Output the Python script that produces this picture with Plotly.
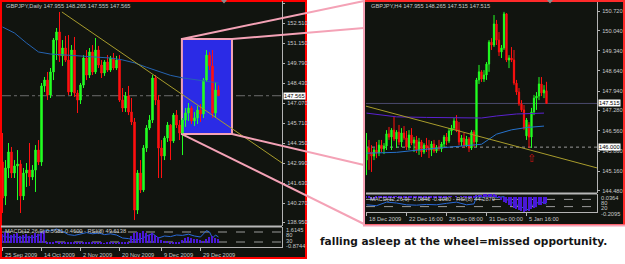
import plotly.graph_objects as go

W, H = 625, 264
def PX(x): return x / W
def PY(y): return 1 - y / H

SMALL = "Liberation Sans, Arial"
FS = 5.7
LBL = "#c8c8c8"
BG = "#11140f"
PINK = "#f4a2b6"

# ---------------- GBPJPY Daily ----------------
d_open = [143.06,140.75,142.65,143.74,142.31,142.79,142.92,140.75,142.31,142.51,142.04,142.51,143.87,143.06,148.23,148.63,147.61,149.18,151.35,151.90,
          150.27,150.81,149.99,147.82,150.67,147.75,147.27,148.29,150.13,148.97,150.54,149.18,150.67,149.65,149.11,149.86,149.31,150.13,149.45,149.99,
          147.27,146.73,147.55,146.46,145.78,139.79,142.31,141.16,144.01,145.37,145.91,148.77,147.27,144.01,143.47,144.69,145.57,144.49,146.25,145.57,
          145.03,145.91,146.39,146.73,145.85,146.05,146.59,146.32,148.63,150.33,149.59,146.39,147.955]
d_high = [145.03,143.19,144.35,144.08,143.19,143.87,143.19,142.65,142.99,144.35,142.85,144.21,144.55,148.43,148.84,149.18,149.45,151.49,152.17,153.26,
          151.35,151.63,151.69,151.01,151.56,147.95,148.43,150.33,150.67,150.81,151.01,151.49,150.95,149.99,149.99,150.33,150.27,150.47,150.27,150.33,
          148.09,147.82,148.23,147.41,146.05,142.51,143.19,144.21,145.57,146.25,148.97,148.97,147.61,144.55,144.83,145.78,145.64,146.39,146.59,145.91,
          146.05,146.73,147.07,146.87,146.46,146.87,147.00,148.77,150.67,150.54,150.67,148.50,148.265]
d_low = [139.59,140.13,141.97,141.97,141.97,140.47,139.59,140.47,141.36,141.43,141.83,141.02,142.85,142.79,147.82,147.27,147.41,148.63,149.99,149.86,
         149.59,149.86,147.61,147.55,147.48,146.39,147.00,148.09,148.63,148.77,148.97,149.04,149.45,148.77,148.91,149.18,149.18,149.31,149.31,147.14,
         146.46,146.46,146.25,145.57,139.11,139.52,140.95,141.02,143.74,145.23,145.71,146.93,141.97,141.97,143.19,144.42,143.19,144.35,145.37,144.55,
         143.53,145.44,145.85,145.64,145.51,145.64,145.78,146.05,148.50,149.31,146.05,146.05,147.555]
d_close = [140.61,142.65,143.74,142.31,142.79,142.92,140.75,142.31,142.51,142.04,142.51,143.87,143.06,148.23,148.63,147.61,149.18,151.35,151.90,150.27,
           150.81,149.99,147.82,150.67,147.75,147.27,148.29,150.13,148.97,150.54,149.18,150.67,149.65,149.11,149.86,149.31,150.13,149.45,149.99,147.27,
           146.73,147.55,146.46,145.78,139.79,142.31,141.16,144.01,145.37,145.91,148.77,147.27,144.01,143.47,144.69,145.57,144.49,146.25,145.57,145.03,
           145.91,146.39,146.73,145.85,146.05,146.59,146.32,148.63,150.33,149.59,146.39,147.95,147.565]
d_x = list(range(len(d_open)))

d_ma_x = [0, 4, 8, 12, 16, 20, 24, 28, 32, 36, 40, 44, 48, 52, 56, 60, 64, 68, 72]
d_ma_y = [152.24, 151.83, 151.15, 150.54, 150.40, 150.33, 150.28, 150.24, 150.18, 150.13,
          150.00, 149.80, 149.50, 149.20, 148.95, 148.78, 148.66, 148.55, 148.43]
d_trend_x = [19.8, 93.2]
d_trend_y = [153.26, 142.99]
d_last = 147.565
d_price_ticks = [153.87, 152.51, 151.15, 149.79, 148.43, 147.07, 145.71, 144.35, 142.99, 141.63, 140.27, 138.95]
d_tick_idx = [0, 13, 26, 39, 53, 66]
d_tick_text = ["25 Sep 2009", "14 Oct 2009", "2 Nov 2009", "20 Nov 2009", "9 Dec 2009", "29 Dec 2009"]
zoom_box_x = [59.8, 76.5]
zoom_box_y = [144.96, 151.42]

d_macd = [0.95,1.10,1.00,0.85,0.90,1.05,0.75,0.80,0.95,0.70,0.85,1.00,0.90,1.15,1.25,
          0.10,0.12,0.15,0.20,0.18,0.15,0.12,0.10,0.08,0.06,0.05,0.07,0.09,0.10,0.12,0.10,0.08,0.06,0.05,0.04,0.05,0.06,0.05,0.04,0.08,0.10,0.12,0.15,
          0.70,1.00,1.15,1.05,1.20,1.00,0.85,1.05,0.80,0.65,
          0.30,0.25,0.20,0.15,0.12,0.10,0.15,0.35,0.55,0.60,0.50,0.45,0.40,0.35,0.25,0.40,0.60,0.70,0.55,0.46]
d_rsi_x = [0,2,4,6,8,10,12,14,16,18,20,22,24,26,28,30,32,34,36,38,40,42,44,46,48,50,52,54,56,58,60,62,64,66,68,69,70,71,72]
d_rsi_y = [55,48,52,45,50,47,55,85,80,90,78,62,58,65,72,66,70,62,66,60,45,42,35,40,55,68,45,55,52,60,58,64,55,50,82,75,45,60,50]

# ---------------- GBPJPY H4 ----------------
h_open = [145.55,145.97,145.83,145.69,145.90,145.80,146.07,145.94,146.04,146.46,146.35,146.59,146.28,146.52,146.18,146.49,146.32,146.00,146.42,146.14,
          146.25,145.90,146.18,145.83,146.07,145.97,145.90,146.11,145.87,146.00,145.94,146.11,146.35,146.21,146.56,146.66,146.91,146.59,146.18,146.32,
          146.07,146.28,145.97,146.52,146.18,148.33,148.61,148.36,148.50,148.88,149.64,149.54,150.27,149.71,149.30,149.44,150.62,149.02,149.09,149.02,
          148.22,147.91,147.50,147.29,146.39,146.77,146.35,147.22,147.70,147.77,148.19,147.88,147.955]
h_high = [146.49,146.25,146.07,145.97,146.18,146.25,146.25,146.14,146.59,146.70,146.66,147.05,146.59,146.77,146.66,146.73,146.56,146.59,146.66,146.35,
          146.39,146.32,146.25,146.14,146.32,146.25,146.21,146.25,146.07,146.25,146.18,146.42,146.49,146.66,146.77,147.01,147.11,146.87,146.42,146.49,
          146.39,146.35,146.59,146.59,148.40,148.85,148.67,148.67,148.95,149.71,149.78,150.58,150.41,149.99,149.54,150.69,150.65,149.19,149.47,149.37,
          148.33,148.05,147.63,147.46,147.01,146.87,147.36,147.81,147.91,148.43,148.43,148.15,148.265]
h_low = [145.03,145.21,145.14,145.55,145.62,145.69,145.83,145.76,145.90,146.25,145.90,146.21,145.97,146.07,146.00,146.25,145.90,145.90,146.07,145.83,
         145.80,145.73,145.66,145.76,145.83,145.62,145.69,145.80,145.80,145.87,145.83,146.00,146.07,146.14,146.42,146.59,146.52,146.07,146.04,145.97,
         146.00,145.83,145.90,146.00,146.00,148.19,148.26,148.26,148.33,148.61,149.37,149.47,149.54,149.16,149.09,149.37,148.95,148.74,148.95,148.15,
         147.81,147.43,147.22,146.59,146.25,145.97,145.97,147.11,147.29,147.63,147.77,147.70,147.515]
h_close = [145.97,145.83,145.69,145.90,145.80,146.07,145.94,146.04,146.46,146.35,146.59,146.28,146.52,146.18,146.49,146.32,146.00,146.42,146.14,146.25,
           145.90,146.18,145.83,146.07,145.97,145.90,146.11,145.87,146.00,145.94,146.11,146.35,146.21,146.56,146.66,146.91,146.59,146.18,146.32,146.07,
           146.28,145.97,146.52,146.18,148.33,148.61,148.36,148.50,148.88,149.64,149.54,150.27,149.71,149.30,149.44,150.62,149.02,149.09,149.02,148.22,
           147.91,147.50,147.29,146.66,146.94,146.35,147.22,147.70,147.77,148.19,147.88,147.98,147.515]
h_x = list(range(len(h_open)))

h_ma1_x = [0, 12, 24, 36, 46, 52, 60, 71]
h_ma1_y = [147.18, 147.05, 147.03, 147.01, 147.01, 147.08, 147.15, 147.18]
h_ma2_x = [0, 12, 24, 36, 42, 46, 52, 58, 64, 71]
h_ma2_y = [145.79, 145.82, 145.93, 146.02, 146.05, 146.10, 146.45, 146.60, 146.68, 146.73]
h_trend_x = [-0.6, 92.2]
h_trend_y = [147.43, 145.28]
h_last = 147.515
h_level = 146.000
h_price_ticks = [150.72, 150.04, 149.34, 148.64, 147.94, 147.28, 146.56, 145.86, 145.16, 144.48]
h_tick_idx = [0, 16, 32, 48, 64]
h_tick_text = ["18 Dec 2009", "22 Dec 16:00", "28 Dec 08:00", "31 Dec 00:00", "5 Jan 16:00"]
arrow_x = [66]
arrow_y = [145.59]

h_macd = [-0.020,-0.025,-0.030,-0.028,-0.025,-0.020,-0.018,-0.015,-0.010,-0.008,-0.006,-0.005,-0.004,-0.006,-0.008,-0.007,-0.009,-0.010,-0.012,-0.011,
          -0.013,-0.014,-0.015,-0.016,-0.015,-0.016,-0.014,-0.015,-0.013,-0.012,-0.010,-0.008,-0.006,-0.004,-0.002,0.000,0.002,0.000,-0.002,-0.004,
          -0.005,-0.006,-0.006,-0.005,
          0.010,0.020,0.028,0.032,0.035,0.036,0.034,0.030,0.020,
          -0.010,-0.040,-0.070,-0.090,-0.110,-0.130,-0.150,-0.170,-0.185,-0.200,-0.205,-0.200,-0.190,-0.170,-0.150,-0.135,-0.120,-0.110,-0.100,-0.085]
h_rsi_x = [0,4,8,12,16,20,24,28,32,36,40,43,44,46,48,50,52,55,57,60,62,64,65,66,68,70,72]
h_rsi_y = [40,35,55,50,40,38,42,40,48,55,40,45,85,82,87,90,80,85,60,40,25,15,12,35,50,56,44]

# ---------------- figure ----------------
fig = go.Figure()

def candles(x, o, h, l, c, xa, ya):
    return go.Candlestick(
        x=x, open=o, high=h, low=l, close=c, xaxis=xa, yaxis=ya,
        increasing=dict(line=dict(color="#22ff22", width=1), fillcolor="#22ff22"),
        decreasing=dict(line=dict(color="#ff1010", width=1), fillcolor="#ff1010"),
        whiskerwidth=0, hoverinfo="skip", showlegend=False)

# left
fig.add_trace(go.Scatter(x=d_ma_x, y=d_ma_y, mode="lines", line=dict(color="#2563b0", width=1), xaxis="x", yaxis="y", hoverinfo="skip"))
fig.add_trace(candles(d_x, d_open, d_high, d_low, d_close, "x", "y"))
fig.add_trace(go.Scatter(x=d_trend_x, y=d_trend_y, mode="lines", line=dict(color="#a89c2c", width=1), xaxis="x", yaxis="y", hoverinfo="skip"))
fig.add_trace(go.Bar(x=d_x, y=d_macd, marker=dict(color="#4a18d8", line=dict(width=0)), width=0.55, xaxis="x2", yaxis="y5", hoverinfo="skip"))
fig.add_trace(go.Scatter(x=d_rsi_x, y=d_rsi_y, mode="lines", line=dict(color="#2a6ad8", width=1), xaxis="x2", yaxis="y2", hoverinfo="skip"))

# right
fig.add_trace(go.Scatter(x=h_ma1_x, y=h_ma1_y, mode="lines", line=dict(color="#5a22d0", width=1), xaxis="x3", yaxis="y3", hoverinfo="skip"))
fig.add_trace(go.Scatter(x=h_ma2_x, y=h_ma2_y, mode="lines", line=dict(color="#2672cc", width=1), xaxis="x3", yaxis="y3", hoverinfo="skip"))
fig.add_trace(go.Scatter(x=h_trend_x, y=h_trend_y, mode="lines", line=dict(color="#a89c2c", width=1), xaxis="x3", yaxis="y3", hoverinfo="skip"))
fig.add_trace(candles(h_x, h_open, h_high, h_low, h_close, "x3", "y3"))
fig.add_trace(go.Scatter(x=arrow_x, y=arrow_y, mode="text", text=["⇧"], textfont=dict(color="#c81414", size=11, family="DejaVu Sans"),
                         xaxis="x3", yaxis="y3", hoverinfo="skip"))
fig.add_trace(go.Bar(x=h_x, y=h_macd, marker=dict(color="#4a18d8", line=dict(width=0)), width=0.55, xaxis="x4", yaxis="y6", hoverinfo="skip"))
fig.add_trace(go.Scatter(x=h_rsi_x, y=h_rsi_y, mode="lines", line=dict(color="#2a6ad8", width=1), xaxis="x4", yaxis="y4", hoverinfo="skip"))

tickfont = dict(size=FS, family=SMALL, color=LBL)
common_x = dict(showgrid=False, zeroline=False, showticklabels=False, fixedrange=True)
common_y = dict(showgrid=False, zeroline=False, fixedrange=True)

xl = [PX(2), PX(282)]
xr = [PX(366), PX(597)]
d_xrange = [-0.17, 93.17]
h_xrange = [-0.2, 92.2]
d_yrange = [138.706, 154.006]
h_yrange = [144.41, 151.032]

fig.update_layout(
    width=W, height=H, margin=dict(l=0, r=0, t=0, b=0),
    paper_bgcolor="white", plot_bgcolor="rgba(0,0,0,0)", showlegend=False, bargap=0,
    xaxis=dict(domain=xl, range=d_xrange, anchor="y", rangeslider=dict(visible=False), **common_x),
    yaxis=dict(domain=[PY(226), PY(1)], range=d_yrange, anchor="x", side="right",
               tickvals=d_price_ticks, ticktext=[f"{v:.3f}" for v in d_price_ticks],
               ticks="outside", ticklen=2, tickcolor="#b4b4b4", tickfont=tickfont, ticklabelstandoff=1,
               showline=True, linecolor="#b4b4b4", linewidth=1, **common_y),
    xaxis2=dict(domain=xl, range=d_xrange, anchor="y2", tickvals=d_tick_idx, ticks="outside", ticklen=3,
                tickcolor="#b4b4b4", showline=True, linecolor="#b4b4b4", linewidth=1, **common_x),
    yaxis2=dict(domain=[PY(247), PY(227)], range=[0, 100], anchor="x2", side="right", showticklabels=False,
                showline=True, linecolor="#b4b4b4", linewidth=1, **common_y),
    yaxis5=dict(overlaying="y2", range=[-0.35, 1.6145], anchor="x2", visible=False, **common_y),
    xaxis3=dict(domain=xr, range=h_xrange, anchor="y3", rangeslider=dict(visible=False), **common_x),
    yaxis3=dict(domain=[PY(193), PY(2)], range=h_yrange, anchor="x3", side="right",
                tickvals=h_price_ticks, ticktext=[f"{v:.3f}" for v in h_price_ticks],
                ticks="outside", ticklen=2, tickcolor="#b4b4b4", tickfont=tickfont, ticklabelstandoff=1,
                showline=True, linecolor="#b4b4b4", linewidth=1, **common_y),
    xaxis4=dict(domain=xr, range=h_xrange, anchor="y4", tickvals=h_tick_idx, ticks="outside", ticklen=3,
                tickcolor="#b4b4b4", showline=True, linecolor="#b4b4b4", linewidth=1, **common_x),
    yaxis4=dict(domain=[PY(212), PY(194)], range=[0, 100], anchor="x4", side="right", showticklabels=False,
                showline=True, linecolor="#b4b4b4", linewidth=1, **common_y),
    yaxis6=dict(overlaying="y4", range=[-0.2095, 0.0364], anchor="x4", visible=False, **common_y),
)

shapes = []
# chart backgrounds / borders
shapes.append(dict(type="rect", xref="paper", yref="paper", x0=PX(1), x1=PX(306), y0=PY(258), y1=PY(1),
                   fillcolor=BG, line=dict(color="#ff0000", width=2), layer="below"))
shapes.append(dict(type="rect", xref="paper", yref="paper", x0=PX(364), x1=PX(624), y0=PY(225), y1=PY(1),
                   fillcolor=BG, line=dict(color="#ff2a2a", width=2), layer="below"))
shapes.append(dict(type="line", xref="paper", yref="paper", x0=PX(364), x1=PX(364), y0=PY(226), y1=PY(0),
                   line=dict(color=PINK, width=2), layer="below"))
shapes.append(dict(type="line", xref="paper", yref="paper", x0=PX(363), x1=PX(625), y0=PY(225.5), y1=PY(225.5),
                   line=dict(color=PINK, width=2), layer="below"))
# window separators
shapes.append(dict(type="line", xref="paper", yref="paper", x0=PX(1), x1=PX(282), y0=PY(226.5), y1=PY(226.5),
                   line=dict(color="#b8b8b8", width=2), layer="below"))
shapes.append(dict(type="line", xref="paper", yref="paper", x0=PX(366), x1=PX(597), y0=PY(193.5), y1=PY(193.5),
                   line=dict(color="#b8b8b8", width=2), layer="below"))
# shift triangles
for cx in (224, 550):
    shapes.append(dict(type="path", xref="paper", yref="paper",
                       path=f"M {PX(cx-3)},{PY(0)} L {PX(cx+3)},{PY(0)} L {PX(cx)},{PY(3.5)} Z",
                       fillcolor="#8a8a8a", line=dict(width=0)))
# price lines
shapes.append(dict(type="line", xref="x domain", yref="y", x0=0, x1=1, y0=d_last, y1=d_last,
                   line=dict(color="#6c6c6c", width=1, dash="dashdot"), layer="below"))
shapes.append(dict(type="line", xref="x3 domain", yref="y3", x0=0, x1=1, y0=h_last, y1=h_last,
                   line=dict(color="#4a4a6e", width=1), layer="below"))
shapes.append(dict(type="line", xref="x3 domain", yref="y3", x0=0, x1=1, y0=h_level, y1=h_level,
                   line=dict(color="#9a9a9a", width=1, dash="dot"), layer="below"))
# indicator levels
for lv in (75, 25):
    shapes.append(dict(type="line", xref="x2 domain", yref="y2", x0=0, x1=1, y0=lv, y1=lv,
                       line=dict(color="#9a9a9a", width=1, dash="dash"), layer="below"))
for lv in (70, 30):
    shapes.append(dict(type="line", xref="x4 domain", yref="y4", x0=0, x1=1, y0=lv, y1=lv,
                       line=dict(color="#9a9a9a", width=1, dash="dash"), layer="below"))
# zoom rectangle
shapes.append(dict(type="rect", xref="x", yref="y", x0=zoom_box_x[0], x1=zoom_box_x[1],
                   y0=zoom_box_y[0], y1=zoom_box_y[1], fillcolor="#2b2be6",
                   line=dict(color=PINK, width=2), layer="below"))

# connector lines from zoom rectangle corners to the H4 chart
def data_to_paper_x(v):
    return xl[0] + (v - d_xrange[0]) / (d_xrange[1] - d_xrange[0]) * (xl[1] - xl[0])
def data_to_paper_y(v):
    y0, y1 = PY(226), PY(1)
    return y0 + (v - d_yrange[0]) / (d_yrange[1] - d_yrange[0]) * (y1 - y0)
bx0, bx1 = data_to_paper_x(zoom_box_x[0]), data_to_paper_x(zoom_box_x[1])
by0, by1 = data_to_paper_y(zoom_box_y[0]), data_to_paper_y(zoom_box_y[1])
for (sx, sy, ty) in [(bx0, by1, 1), (bx1, by1, 28), (bx1, by0, 165), (bx0, by0, 224)]:
    shapes.append(dict(type="line", xref="paper", yref="paper", x0=sx, y0=sy, x1=PX(364), y1=PY(ty),
                       line=dict(color=PINK, width=2), layer="above"))
fig.update_layout(shapes=shapes)

ann = []
def txt(x, y, s, size=FS, color=LBL, xref="paper", yref="paper", xanchor="left", **kw):
    ann.append(dict(x=x, y=y, xref=xref, yref=yref, text=s, showarrow=False, xanchor=xanchor, yanchor="middle",
                    font=dict(size=size, family=SMALL, color=color), **kw))

txt(PX(4), PY(6), "GBPJPY,Daily 147.955 148.265 147.555 147.565")
txt(PX(369), PY(6), "GBPJPY,H4 147.955 148.265 147.515 147.515")
txt(PX(3), PY(231), "MACD(12,26,9) 0.5681 0.4600 - RSI(8) 49.6138")
txt(PX(368), PY(199), "MACD(12,26,9) -0.0845 -0.1080 - RSI(8) 44.2879")
# indicator scale labels
txt(PX(284), PY(229.5), "1.6145")
txt(PX(284), PY(235), "80")
txt(PX(284), PY(240.5), "30")
txt(PX(284), PY(246), "-0.8744")
txt(PX(599), PY(198), "0.0364")
txt(PX(599), PY(203), "80")
txt(PX(599), PY(208), "20")
txt(PX(599), PY(213.5), "-0.2095")
# date labels
for i, s in zip(d_tick_idx, d_tick_text):
    txt(i, PY(255), s, xref="x2")
for i, s in zip(h_tick_idx, h_tick_text):
    txt(i, PY(219), s, xref="x4")
# current price boxes
for (xp, yv, yr, s) in [(PX(283), d_last, "y", "147.565"), (PX(598), h_last, "y3", "147.515"), (PX(598), h_level, "y3", "146.000")]:
    ann.append(dict(x=xp, y=yv, xref="paper", yref=yr, text=s, showarrow=False, xanchor="left", yanchor="middle",
                    bgcolor="white", borderpad=0, font=dict(size=FS, family=SMALL, color="#000000")))
# caption
ann.append(dict(x=PX(318), y=PY(241), xref="paper", yref="paper", text="falling asleep at the wheel=missed opportunity.",
                showarrow=False, xanchor="left", yanchor="middle",
                font=dict(size=10.6, family="DejaVu Sans", color="#151515", weight="bold")))
fig.update_layout(annotations=ann)

fig.write_html("out.html")
